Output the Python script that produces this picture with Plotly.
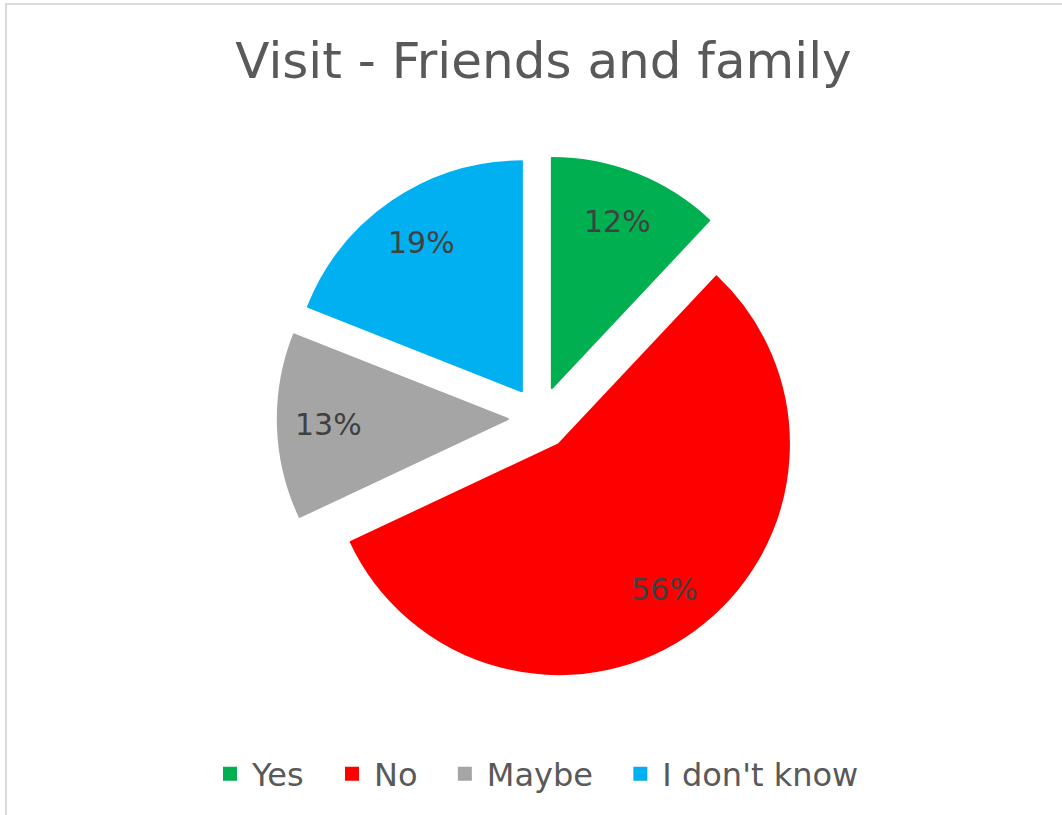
import math
import plotly.graph_objects as go

# Survey answers and their shares (%)
labels = ["Yes", "No", "Maybe", "I don't know"]
values = [12, 56, 13, 19]
colors = ["#00B050", "#FF0000", "#A5A5A5", "#00B0F0"]

W, H = 1062, 815
FONT = "'DejaVu Sans', Verdana, sans-serif"

# pie geometry (pixels): centre, base radius, explode fraction, slice outline
cx, cy = 540, 418
radius = 230
pull = 0.14
outline = 2
side = 2 * radius * (1 + pull)
dom_x = [(cx - side / 2) / W, (cx + side / 2) / W]
dom_y = [1 - (cy + side / 2) / H, 1 - (cy - side / 2) / H]

# legend entries get a little trailing room so the items spread out
legend_names = [lab + "\u00a0\u00a0" for lab in labels]

fig = go.Figure(
    go.Pie(
        labels=legend_names,
        values=values,
        sort=False,
        direction="clockwise",
        rotation=0,
        pull=[pull] * len(values),
        marker=dict(colors=colors, line=dict(color=colors, width=outline)),
        textinfo="none",
        hovertext=labels,
        hoverinfo="text+percent",
        domain=dict(x=dom_x, y=dom_y),
    )
)

# percentage labels placed along each slice's mid-angle
total = sum(values)
label_frac = 0.78
annotations = []
start = 0.0
for v in values:
    mid = (start + v / 2) / total * 2 * math.pi
    start += v
    dist = radius * (pull + label_frac)
    px = cx + dist * math.sin(mid)
    py = cy - dist * math.cos(mid)
    annotations.append(
        dict(
            text=f"{v / total:.0%}",
            x=px / W,
            y=1 - py / H,
            xref="paper",
            yref="paper",
            xanchor="center",
            yanchor="middle",
            showarrow=False,
            font=dict(family=FONT, size=30, color="#404040"),
        )
    )

fig.update_layout(
    width=W,
    height=H,
    margin=dict(l=0, r=0, t=0, b=0),
    paper_bgcolor="white",
    plot_bgcolor="white",
    title=dict(
        text="Visit - Friends and family",
        x=543.5 / W,
        xanchor="center",
        y=1 - 60.5 / H,
        yanchor="middle",
        font=dict(family=FONT, size=50, color="#595959"),
    ),
    showlegend=True,
    legend=dict(
        orientation="h",
        x=208 / W,
        xanchor="left",
        y=1 - 774 / H,
        yanchor="middle",
        itemwidth=34,
        font=dict(family=FONT, size=32, color="#595959"),
        traceorder="normal",
    ),
    annotations=annotations,
    shapes=[
        dict(
            type="rect",
            xref="paper",
            yref="paper",
            x0=6 / W,
            x1=1.02,
            y0=-0.02,
            y1=1 - 4 / H,
            line=dict(color="#D9D9D9", width=2),
            fillcolor="rgba(0,0,0,0)",
            layer="below",
        )
    ],
)

fig.write_html("out.html")
